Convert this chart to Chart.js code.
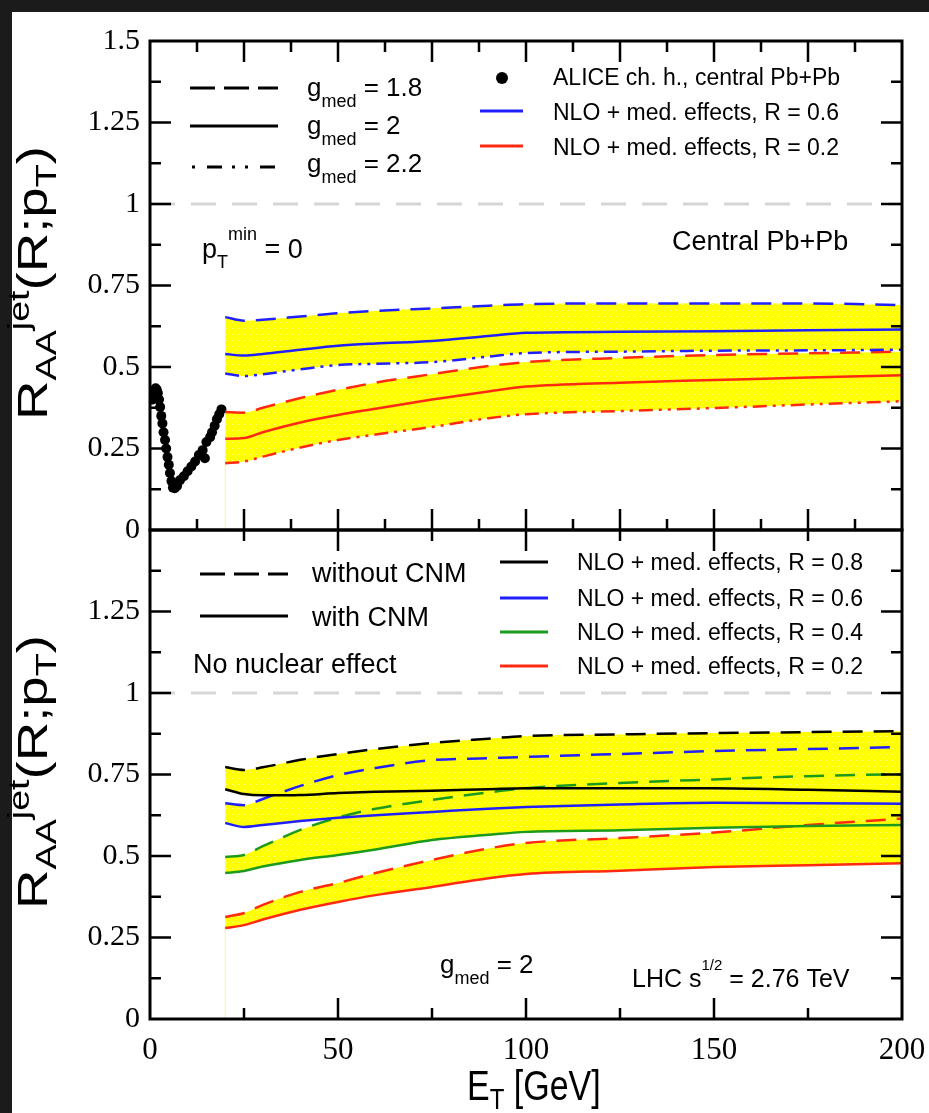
<!DOCTYPE html>
<html>
<head>
<meta charset="utf-8">
<script src="https://cdn.jsdelivr.net/npm/chart.js@4.4.0/dist/chart.umd.min.js"></script>
<style>
  html, body { margin: 0; padding: 0; background: #1b1b1b; }
  #paper { position: absolute; left: 12px; top: 12px; width: 917px; height: 1101px; background: #fff; }
  canvas { position: absolute; left: 0; top: 0; }
</style>
</head>
<body>
<div id="paper"></div>
<canvas id="topChart" width="929" height="1113" style="width:929px;height:1113px"></canvas>
<canvas id="bottomChart" width="929" height="1113" style="width:929px;height:1113px"></canvas>
<script>
// jet energies for the NLO curves (GeV)
const energies = [20, 25, 30, 40, 50, 60, 75, 90, 100, 125, 150, 175, 200];

// top panel, p_T^min = 0, three g_med values
const topR06g18 = [0.653, 0.642, 0.645, 0.655, 0.665, 0.672, 0.68, 0.688, 0.693, 0.695, 0.695, 0.695, 0.69];
const topR06g20 = [0.54, 0.535, 0.54, 0.553, 0.565, 0.572, 0.58, 0.595, 0.605, 0.608, 0.61, 0.613, 0.615];
const topR06g22 = [0.48, 0.472, 0.478, 0.493, 0.506, 0.51, 0.515, 0.532, 0.543, 0.547, 0.55, 0.551, 0.553];
const topR02g18 = [0.362, 0.36, 0.375, 0.405, 0.43, 0.452, 0.478, 0.503, 0.515, 0.528, 0.537, 0.542, 0.547];
const topR02g20 = [0.28, 0.282, 0.3, 0.33, 0.353, 0.372, 0.4, 0.425, 0.44, 0.452, 0.46, 0.468, 0.475];
const topR02g22 = [0.205, 0.21, 0.225, 0.253, 0.276, 0.293, 0.316, 0.343, 0.355, 0.365, 0.374, 0.385, 0.395];

// ALICE charged hadrons, central Pb+Pb
const aliceEt = [0.6, 0.9, 1.2, 1.5, 1.8, 2.1, 2.4, 2.7, 3.0, 3.3, 3.6, 4.0, 4.3, 4.65, 5.0, 5.3, 5.7, 6.1, 6.6, 7.2, 8.0, 9.0, 10.0, 11.0, 12.0, 13.0, 14.0, 14.6, 15.0, 16.0, 16.5, 17.2, 17.8, 18.4, 19.0];
const aliceRaa = [0.40, 0.42, 0.43, 0.435, 0.43, 0.42, 0.40, 0.377, 0.35, 0.327, 0.30, 0.276, 0.25, 0.224, 0.20, 0.175, 0.15, 0.13, 0.128, 0.135, 0.153, 0.165, 0.18, 0.195, 0.21, 0.23, 0.245, 0.22, 0.27, 0.285, 0.30, 0.32, 0.34, 0.355, 0.37];

// bottom panel, g_med = 2, with / without CNM
const botR08noCnm = [0.773, 0.764, 0.772, 0.795, 0.813, 0.828, 0.847, 0.86, 0.868, 0.873, 0.877, 0.88, 0.883];
const botR08cnm = [0.705, 0.69, 0.686, 0.687, 0.693, 0.697, 0.70, 0.705, 0.708, 0.708, 0.708, 0.703, 0.697];
const botR06noCnm = [0.662, 0.656, 0.675, 0.715, 0.748, 0.77, 0.794, 0.80, 0.804, 0.813, 0.822, 0.828, 0.834];
const botR06cnm = [0.601, 0.589, 0.595, 0.607, 0.617, 0.625, 0.635, 0.645, 0.65, 0.658, 0.663, 0.662, 0.66];
const botR04noCnm = [0.497, 0.503, 0.53, 0.58, 0.618, 0.645, 0.672, 0.695, 0.708, 0.724, 0.735, 0.745, 0.751];
const botR04cnm = [0.448, 0.454, 0.468, 0.488, 0.503, 0.52, 0.549, 0.565, 0.574, 0.579, 0.587, 0.592, 0.595];
const botR02noCnm = [0.313, 0.325, 0.35, 0.39, 0.417, 0.448, 0.488, 0.523, 0.54, 0.555, 0.572, 0.595, 0.615];
const botR02cnm = [0.279, 0.288, 0.305, 0.335, 0.359, 0.38, 0.405, 0.432, 0.445, 0.455, 0.466, 0.472, 0.478];

const xTicks = [0, 50, 100, 150, 200];
const yTicks = [0, 0.25, 0.5, 0.75, 1, 1.25, 1.5];
const noEffectLevel = 1;

const BLUE = '#2020ff';
const RED = '#ff2a10';
const GREEN = '#1c9a1c';
const BLACK = '#000';
const DASH = [20, 11];
const DASHDOT = [14, 6, 3, 6, 3, 6];
const SANS = '"Liberation Sans", Arial, sans-serif';
const SERIF = '"Liberation Serif", "Times New Roman", serif';

function yellowPattern(canvas) {
  const tile = document.createElement('canvas');
  tile.width = 6; tile.height = 6;
  const g = tile.getContext('2d');
  g.fillStyle = '#ffff00';
  g.fillRect(0, 0, 6, 6);
  g.fillStyle = 'rgba(255,255,255,0.45)';
  g.fillRect(1, 1, 1, 1);
  g.fillRect(4, 4, 1, 1);
  return canvas.getContext('2d').createPattern(tile, 'repeat');
}

const pts = (ys) => energies.map((x, i) => ({ x, y: ys[i] }));

function curve(ys, color, dash, fillTo, pattern) {
  return {
    data: pts(ys),
    borderColor: color,
    borderWidth: 2.5,
    borderDash: dash,
    pointRadius: 0,
    cubicInterpolationMode: 'monotone',
    fill: fillTo === undefined ? false : fillTo,
    backgroundColor: pattern,
  };
}

function unityLine() {
  return {
    data: [{ x: xTicks[0], y: noEffectLevel }, { x: xTicks[xTicks.length - 1], y: noEffectLevel }],
    borderColor: '#d6d6d6',
    borderWidth: 3,
    borderDash: [25, 16],
    pointRadius: 0,
    fill: false,
  };
}

function bandEdge(lowest) {
  return {
    data: [{ x: energies[0], y: 0 }, { x: energies[0], y: lowest[0] }],
    borderColor: '#fff3a0',
    borderWidth: 1,
    pointRadius: 0,
    fill: false,
  };
}

// text with sub/superscripts: parts = [text, size, dy]
function rich(ctx, x, y, parts, measureOnly) {
  let cx = x;
  for (const [t, size, dy] of parts) {
    ctx.font = size + 'px ' + SANS;
    if (!measureOnly) ctx.fillText(t, cx, y + (dy || 0));
    cx += ctx.measureText(t).width;
  }
  return cx - x;
}

function seg(ctx, x1, y1, x2, y2, color, dash, offset) {
  ctx.save();
  ctx.strokeStyle = color;
  ctx.lineWidth = 3;
  ctx.setLineDash(dash || []);
  ctx.lineDashOffset = offset || 0;
  ctx.beginPath();
  ctx.moveTo(x1, y1);
  ctx.lineTo(x2, y2);
  ctx.stroke();
  ctx.restore();
}

function yTitle(ctx, x, yc) {
  const parts = [['R', 42, 0], ['AA', 29, 9], ['jet', 29, -18], ['(R;p', 42, 0], ['T', 29, 9], [')', 42, 0]];
  ctx.save();
  ctx.translate(x, yc);
  ctx.rotate(-Math.PI / 2);
  ctx.scale(1.3, 1);
  const w = rich(ctx, 0, 0, parts, true);
  rich(ctx, -w / 2, 0, parts);
  ctx.restore();
}

const axisFrame = {
  id: 'axisFrame',
  afterDraw(chart, args, opts) {
    const { ctx, chartArea: a } = chart;
    const x = chart.scales.x;
    const y = chart.scales.y;
    ctx.save();
    ctx.strokeStyle = '#000';
    ctx.lineWidth = 2.5;
    ctx.beginPath();
    for (let v = opts.xMinor; v < 200; v += opts.xMinor) {
      const px = x.getPixelForValue(v);
      const len = v % opts.xMajor === 0 ? 21 : 11;
      ctx.moveTo(px, a.top); ctx.lineTo(px, a.top + len);
      ctx.moveTo(px, a.bottom); ctx.lineTo(px, a.bottom - len);
    }
    for (let v = 0.125; v < 1.5; v += 0.125) {
      const py = y.getPixelForValue(v);
      const len = v % 0.25 === 0 ? 21 : 11;
      ctx.moveTo(a.left, py); ctx.lineTo(a.left + len, py);
      ctx.moveTo(a.right, py); ctx.lineTo(a.right - len, py);
    }
    ctx.stroke();
    ctx.lineWidth = 3;
    ctx.strokeRect(a.left, a.top, a.right - a.left, a.bottom - a.top);
    ctx.restore();
    if (opts.annotate) opts.annotate(ctx);
  },
};

function yScale(ticks) {
  return {
    min: 0,
    max: 1.5,
    afterFit: (s) => { s.width = 150; },
    afterBuildTicks: (s) => { s.ticks = ticks.map((value) => ({ value })); },
    grid: { display: false, drawTicks: false },
    border: { display: false },
    ticks: {
      padding: 10,
      color: '#000',
      font: { family: SERIF, size: 30 },
      callback: (v) => String(Math.round(v * 100) / 100),
    },
  };
}

function annotateTop(ctx) {
  ctx.save();
  ctx.fillStyle = '#000';
  ctx.textBaseline = 'alphabetic';
  seg(ctx, 190, 88, 278, 88, BLACK, [25, 9]);
  seg(ctx, 190, 126, 278, 126, BLACK);
  seg(ctx, 190, 167, 278, 167, BLACK, [15, 10, 3, 10, 3, 12], 36);
  rich(ctx, 307, 96, [['g', 26, 0], ['med', 18, 11], [' = 1.8', 26, 0]]);
  rich(ctx, 307, 134, [['g', 26, 0], ['med', 18, 11], [' = 2', 26, 0]]);
  rich(ctx, 307, 172, [['g', 26, 0], ['med', 18, 11], [' = 2.2', 26, 0]]);

  ctx.beginPath();
  ctx.arc(502, 78, 6, 0, Math.PI * 2);
  ctx.fill();
  seg(ctx, 480, 111, 523, 111, BLUE);
  seg(ctx, 480, 146, 523, 146, RED);
  rich(ctx, 553, 85, [['ALICE ch. h., central Pb+Pb', 23, 0]]);
  rich(ctx, 553, 120, [['NLO + med. effects, R = 0.6', 23, 0]]);
  rich(ctx, 553, 155, [['NLO + med. effects, R = 0.2', 23, 0]]);

  rich(ctx, 202, 258, [['p', 27, 0], ['T', 18, 10], ['min', 18, -18], [' = 0', 27, 0]]);
  rich(ctx, 672, 250, [['Central Pb+Pb', 27, 0]]);
  yTitle(ctx, 47, 283);
  ctx.restore();
}

function annotateBottom(ctx) {
  ctx.save();
  ctx.fillStyle = '#000';
  ctx.textBaseline = 'alphabetic';
  seg(ctx, 200, 574, 288, 574, BLACK, [25, 9]);
  seg(ctx, 200, 616, 288, 616, BLACK);
  rich(ctx, 312, 582, [['without CNM', 27, 0]]);
  rich(ctx, 312, 626, [['with CNM', 27, 0]]);
  rich(ctx, 193, 673, [['No nuclear effect', 27, 0]]);

  seg(ctx, 500, 562, 548, 562, BLACK);
  seg(ctx, 500, 598, 548, 598, BLUE);
  seg(ctx, 500, 632, 548, 632, GREEN);
  seg(ctx, 500, 666, 548, 666, RED);
  rich(ctx, 577, 570, [['NLO + med. effects, R = 0.8', 23, 0]]);
  rich(ctx, 577, 606, [['NLO + med. effects, R = 0.6', 23, 0]]);
  rich(ctx, 577, 640, [['NLO + med. effects, R = 0.4', 23, 0]]);
  rich(ctx, 577, 674, [['NLO + med. effects, R = 0.2', 23, 0]]);

  rich(ctx, 440, 973, [['g', 26, 0], ['med', 18, 11], [' = 2', 26, 0]]);
  rich(ctx, 632, 987, [['LHC s', 25, 0], ['1/2', 15, -17], [' = 2.76 TeV', 25, 0]]);

  yTitle(ctx, 47, 772);

  ctx.save();
  ctx.translate(467, 1100);
  ctx.scale(1, 1.25);
  rich(ctx, 0, 0, [['E', 34, 0], ['T', 24, 7], [' [GeV]', 34, 0]]);
  ctx.restore();
  ctx.restore();
}

const baseOptions = (padding, plugins) => ({
  responsive: false,
  animation: false,
  events: [],
  layout: { padding, autoPadding: false },
  plugins: Object.assign({
    legend: { display: false },
    tooltip: { enabled: false },
    filler: { drawTime: 'beforeDatasetsDraw' },
  }, plugins),
});

const topCanvas = document.getElementById('topChart');
const topFill = yellowPattern(topCanvas);
const topOptions = baseOptions({ left: 0, right: 27, top: 41, bottom: 583 }, {
  axisFrame: { xMajor: 25, xMinor: 12.5, annotate: annotateTop },
});
topOptions.scales = {
  x: { type: 'linear', min: 0, max: 200, display: false },
  y: yScale(yTicks),
};

new Chart(topCanvas, {
  type: 'line',
  data: {
    datasets: [
      curve(topR06g18, BLUE, DASH, 2, topFill),
      curve(topR06g20, BLUE, []),
      curve(topR06g22, BLUE, DASHDOT),
      curve(topR02g18, RED, DASH, 5, topFill),
      curve(topR02g20, RED, []),
      curve(topR02g22, RED, DASHDOT),
      {
        data: aliceEt.map((x, i) => ({ x, y: aliceRaa[i] })),
        showLine: false,
        pointRadius: 5,
        pointBackgroundColor: '#000',
        pointBorderWidth: 0,
        fill: false,
      },
      bandEdge(topR02g22),
      unityLine(),
    ],
  },
  options: topOptions,
  plugins: [axisFrame],
});

const botCanvas = document.getElementById('bottomChart');
const botFill = yellowPattern(botCanvas);
const botOptions = baseOptions({ left: 0, right: 27, top: 530, bottom: 0 }, {
  axisFrame: { xMajor: 50, xMinor: 25, annotate: annotateBottom },
});
botOptions.scales = {
  x: {
    type: 'linear',
    min: 0,
    max: 200,
    afterFit: (s) => {
      s.height = 94;
      s.paddingLeft = 0;
      s.paddingRight = 0;
    },
    afterBuildTicks: (s) => { s.ticks = xTicks.map((value) => ({ value })); },
    grid: { display: false, drawTicks: false },
    border: { display: false },
    ticks: { padding: 13, color: '#000', font: { family: SERIF, size: 31 }, maxRotation: 0, autoSkip: false },
  },
  y: yScale(yTicks.filter((v) => v < 1.5)),
};

new Chart(botCanvas, {
  type: 'line',
  data: {
    datasets: [
      curve(botR08noCnm, BLACK, DASH, 1, botFill),
      curve(botR08cnm, BLACK, []),
      curve(botR06noCnm, BLUE, DASH, 3, botFill),
      curve(botR06cnm, BLUE, []),
      curve(botR04noCnm, GREEN, DASH, 5, botFill),
      curve(botR04cnm, GREEN, []),
      curve(botR02noCnm, RED, DASH, 7, botFill),
      curve(botR02cnm, RED, []),
      bandEdge(botR02cnm),
      unityLine(),
    ],
  },
  options: botOptions,
  plugins: [axisFrame],
});
</script>
</body>
</html>
